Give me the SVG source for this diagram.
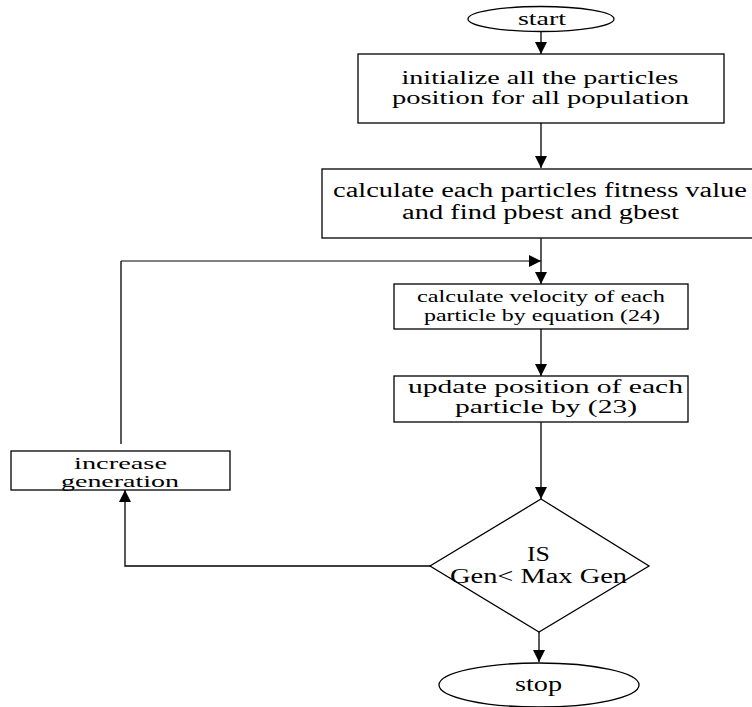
<svg xmlns="http://www.w3.org/2000/svg" width="752" height="707" viewBox="0 0 752 707">
<defs>
<marker id="ah" viewBox="0 0 12 12" refX="12" refY="6" markerWidth="12" markerHeight="12" markerUnits="userSpaceOnUse" orient="auto">
<path d="M0,0 L12,6 L0,12 Z" fill="#000"/>
</marker>
<style>
.s{fill:#fff;stroke:#000;stroke-width:1.3}
.c{fill:none;stroke:#000;stroke-width:1.3;marker-end:url(#ah)}
.l{fill:none;stroke:#000;stroke-width:1.3}
text{font-family:"Liberation Serif","Times New Roman",serif;fill:#000;text-anchor:middle}
</style>
</defs>
<rect width="752" height="707" fill="#fff"/>
<g id="connectors">
<path class="c" d="M541,32 V54"/>
<path class="c" d="M541,123 V168"/>
<path class="c" d="M541,238 V284"/>
<path class="c" d="M541,329 V376"/>
<path class="c" d="M541,422 V499"/>
<path class="c" d="M539,632 V662"/>
<path class="l" d="M121,444 V261"/>
<path class="c" d="M121,261 H541" style="stroke-width:1"/>
<path class="c" d="M430,566 H125 V490"/>
</g>
<g id="start">
<ellipse class="s" cx="541" cy="19" rx="73" ry="12.5"/>
<text x="542" y="25" font-size="19" textLength="48" lengthAdjust="spacingAndGlyphs">start</text>
</g>
<g id="init">
<rect class="s" x="358" y="54" width="366" height="69"/>
<text x="540" y="84" font-size="19" textLength="277" lengthAdjust="spacingAndGlyphs">initialize all the particles</text>
<text x="540.5" y="104" font-size="19" textLength="297" lengthAdjust="spacingAndGlyphs">position for all population</text>
</g>
<g id="fitness">
<rect class="s" x="322" y="169" width="440" height="69"/>
<text x="540" y="197" font-size="20" textLength="414" lengthAdjust="spacingAndGlyphs">calculate each particles fitness value</text>
<text x="540.5" y="219" font-size="20" textLength="277" lengthAdjust="spacingAndGlyphs">and find pbest and gbest</text>
</g>
<g id="velocity">
<rect class="s" x="394" y="284" width="294" height="45"/>
<text x="541" y="302" font-size="16" textLength="248" lengthAdjust="spacingAndGlyphs">calculate velocity of each</text>
<text x="542" y="321" font-size="16" textLength="236" lengthAdjust="spacingAndGlyphs">particle by equation (24)</text>
</g>
<g id="update">
<rect class="s" x="394" y="376" width="294" height="46"/>
<text x="545.5" y="393" font-size="19" textLength="275" lengthAdjust="spacingAndGlyphs">update position of each</text>
<text x="546" y="413" font-size="19" textLength="182" lengthAdjust="spacingAndGlyphs">particle by (23)</text>
</g>
<g id="increase">
<rect class="s" x="11" y="451" width="219" height="39"/>
<text x="120.5" y="469" font-size="17" textLength="93" lengthAdjust="spacingAndGlyphs">increase</text>
<text x="120" y="487" font-size="17" textLength="118" lengthAdjust="spacingAndGlyphs">generation</text>
</g>
<g id="decision">
<polygon class="s" points="541,499 649,566 539,632 430,566"/>
<text x="538.5" y="561" font-size="20" textLength="23" lengthAdjust="spacingAndGlyphs">IS</text>
<text x="538.5" y="583" font-size="20" textLength="177" lengthAdjust="spacingAndGlyphs">Gen&lt; Max Gen</text>
</g>
<g id="stop">
<ellipse class="s" cx="539" cy="685" rx="100" ry="22"/>
<text x="538.5" y="691" font-size="20" textLength="47" lengthAdjust="spacingAndGlyphs">stop</text>
</g>
</svg>
